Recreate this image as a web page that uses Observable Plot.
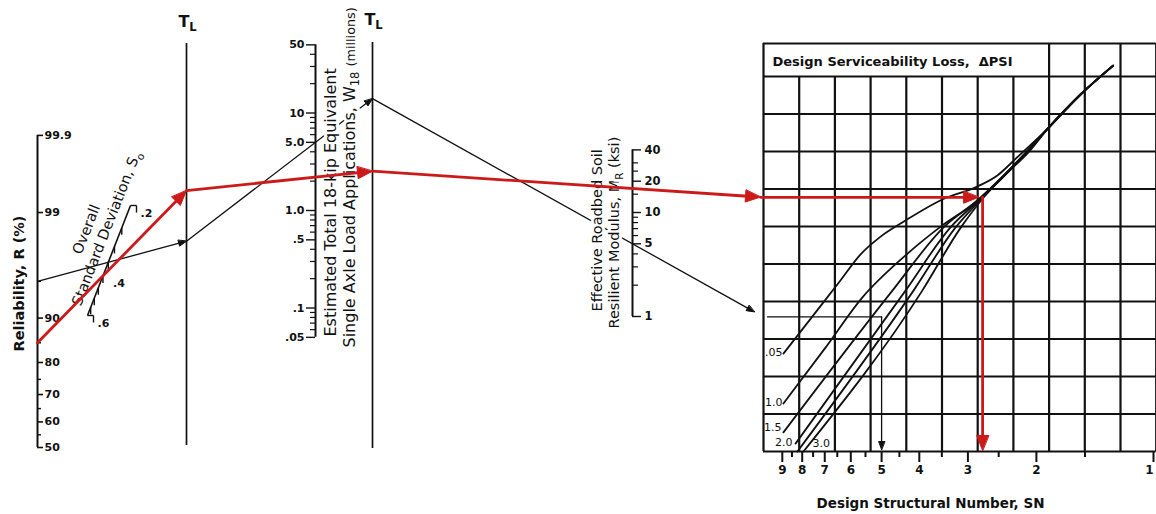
<!DOCTYPE html>
<html><head><meta charset="utf-8">
<script src="https://cdn.jsdelivr.net/npm/d3@7"></script>
<script src="https://cdn.jsdelivr.net/npm/@observablehq/plot@0.6"></script>
<style>
html,body{margin:0;padding:0;background:#fff;}
#chart svg{display:block;}
</style></head><body><div id="chart"></div>
<script>
// ---------------- DATA ----------------
const R_MAJOR = [50, 60, 70, 80, 90, 99, 99.9];
const R_MINOR = [55, 65, 75, 85, 95];
const S0_TICKS = [0.2, 0.25, 0.3, 0.35, 0.4, 0.45, 0.5, 0.55, 0.6];
const S0_LABELS = [0.2, 0.4, 0.6];
const W18_MAJOR = [0.05, 0.1, 0.5, 1, 5, 10, 50];
const W18_LABELS = [".05", ".1", ".5", "1.0", "5.0", "10", "50"];
const W18_MINOR = [0.06, 0.07, 0.08, 0.09, 0.2, 0.3, 0.4, 0.6, 0.7, 0.8, 0.9, 2, 3, 4, 6, 7, 8, 9, 20, 30, 40];
const MR_MAJOR = [1, 5, 10, 20, 40];
const MR_MINOR = [2, 3, 4, 6, 7, 8, 9, 15, 25, 30];
const SN_MAJOR = [1, 2, 3, 4, 5, 6, 7, 8, 9];
const SN_MINOR = [1.5, 2.5, 3.5, 4.5, 5.5, 6.5, 7.5, 8.5];

// Design serviceability loss curves: [SN, chart level]
const PSI_VALUES = [0.5, 1.0, 1.5, 2.0, 2.5, 3.0];
const PSI_LABELS = [".05", "1.0", "1.5", "2.0", "", "3.0"];
const PSI_05 = [[8.94,2.61],[7.39,3.71],[6.38,4.56],[5.67,5.25],[5.03,5.73],[4.34,6.16],[3.49,6.72],[2.83,7.07],[2.52,7.36],[2.26,7.81],[1.87,8.61],[1.54,9.52],[1.27,10.29]];
const PSI_10 = [[8.94,1.28],[6.97,2.77],[5.60,4.11],[4.34,5.23],[3.49,6.03],[2.83,6.69],[2.47,7.28],[2.13,7.97],[1.87,8.61],[1.54,9.52],[1.27,10.29]];
const PSI_15 = [[8.94,0.51],[4.69,4.29],[3.47,5.97],[2.82,6.72],[2.47,7.28],[2.13,7.97],[1.87,8.61],[1.54,9.52],[1.27,10.29]];
const PSI_20 = [[8.32,0.21],[4.34,4.29],[3.33,5.97],[2.78,6.75],[2.44,7.31],[2.12,7.97],[1.87,8.61],[1.54,9.52],[1.27,10.29]];
const PSI_25 = [[8.23,0],[4.14,4.29],[3.23,5.97],[2.75,6.77],[2.43,7.33],[2.11,7.97],[1.87,8.61],[1.54,9.52],[1.27,10.29]];
const PSI_30 = [[7.94,0],[3.93,4.29],[3.13,5.97],[2.72,6.80],[2.42,7.36],[2.10,7.97],[1.87,8.61],[1.54,9.52],[1.27,10.29]];

// Worked examples (black = guide example, red = design solution)
const EX_NAMES = ["example", "design"];
const EX_R = [95, 85];
const EX_S0 = [0.35, 0.40];
const EX_W18 = [5, 2.2];
const EX_MR = [5, 17];
const EX_SN = [5.0, 2.75];

// ---------------- LAYOUT (nomograph scales) ----------------
function probit(p){
  const a=[-3.969683028665376e+01,2.209460984245205e+02,-2.759285104469687e+02,1.383577518672690e+02,-3.066479806614716e+01,2.506628277459239e+00];
  const b=[-5.447609879822406e+01,1.615858368580409e+02,-1.556989798598866e+02,6.680131188771972e+01,-1.328068155288572e+01];
  const c=[-7.784894002430293e-03,-3.223964580411365e-01,-2.400758277161838e+00,-2.549732539343734e+00,4.374664141464968e+00,2.938163982698783e+00];
  const d=[7.784695709041462e-03,3.224671290700398e-01,2.445134137142996e+00,3.754408661907416e+00];
  const pl=0.02425, ph=1-pl; let q,r;
  if(p<pl){q=Math.sqrt(-2*Math.log(p));return (((((c[0]*q+c[1])*q+c[2])*q+c[3])*q+c[4])*q+c[5])/((((d[0]*q+d[1])*q+d[2])*q+d[3])*q+1);}
  if(p<=ph){q=p-0.5;r=q*q;return (((((a[0]*r+a[1])*r+a[2])*r+a[3])*r+a[4])*r+a[5])*q/(((((b[0]*r+b[1])*r+b[2])*r+b[3])*r+b[4])*r+1);}
  q=Math.sqrt(-2*Math.log(1-p));return -(((((c[0]*q+c[1])*q+c[2])*q+c[3])*q+c[4])*q+c[5])/((((d[0]*q+d[1])*q+d[2])*q+d[3])*q+1);
}
const RX = 37;
const yR = r => 447 - 101 * probit(r / 100);
const s0t = s => (s - 0.2) * 0.914 / (0.4 * (s + 0.314));
const pS0 = s => { const t = s0t(s); return [130 - 43 * t, 205 + 110 * t]; };
const TL1 = 186, TL2 = 372;
const WX = 315;
const yW = w => 210 - 97.5 * Math.log10(w);
const MX = 632;
const yM = m => 316 - 104 * Math.log10(m);
const GX0 = 763, COLW = 35.7, NCOL = 11, GBOT = 451, ROWH = 37.5, NROW = 10, GTOP = 43;
const GX1 = GX0 + NCOL * COLW;
const xSN = sn => 1153 - 389 * Math.log10(sn);
const yLev = l => GBOT - ROWH * l;

const RED = "#cc1a1a", INK = "#111";
const FONT = "'DejaVu Sans', Verdana, sans-serif";

// helpers
const lineAt = (p, q, x) => p[1] + (q[1] - p[1]) * (x - p[0]) / (q[0] - p[0]);
function seg(x1, y1, x2, y2) { return {x1, y1, x2, y2}; }
function head(s, len, hw, id) {
  const dx = s.x2 - s.x1, dy = s.y2 - s.y1, L = Math.hypot(dx, dy), ux = dx / L, uy = dy / L;
  const bx = s.x2 - ux * len, by = s.y2 - uy * len;
  return [{id, x: s.x2, y: s.y2}, {id, x: bx - uy * hw, y: by + ux * hw}, {id, x: bx + uy * hw, y: by - ux * hw}];
}
function shorten(s, k) {
  const dx = s.x2 - s.x1, dy = s.y2 - s.y1, L = Math.hypot(dx, dy);
  return {x1: s.x1, y1: s.y1, x2: s.x2 - dx / L * k, y2: s.y2 - dy / L * k};
}

// example paths
const exPaths = EX_NAMES.map((name, i) => {
  const pR = [RX, yR(EX_R[i])];
  const pS = pS0(EX_S0[i]);
  const pT1 = [TL1, lineAt(pR, pS, TL1)];
  const pW = [WX, yW(EX_W18[i])];
  const pT2 = [TL2, lineAt(pT1, pW, TL2)];
  const pM = [MX, yM(EX_MR[i])];
  const yG = lineAt(pT2, pM, GX0);
  const xs = xSN(EX_SN[i]);
  const red = name === "design";
  const xEnd = red ? 760 : 754;
  const segs = [
    {s: seg(pR[0], pR[1], pT1[0], pT1[1]), h: true},
    {s: seg(pT1[0], pT1[1], pT2[0], pT2[1]), h: true},
    {s: seg(pT2[0], pT2[1], xEnd, lineAt(pT2, pM, xEnd)), h: true},
    {s: seg(red ? 760 : 767, yG, red ? xs - 4 : xs, yG), h: red},
    {s: seg(xs, yG, xs, red ? 450 : 449), h: true}
  ];
  return {name, red, segs};
});

function exMarks(ex) {
  const len = ex.red ? 15 : 8, hw = ex.red ? 6 : 3;
  const color = ex.red ? RED : INK;
  const shafts = ex.segs.map(d => d.h ? shorten(d.s, len * 0.6) : d.s);
  const heads = ex.segs.flatMap((d, j) => d.h ? head(d.s, len, hw, ex.name + j) : []);
  return [
    Plot.link(shafts, {x1: "x1", y1: "y1", x2: "x2", y2: "y2", stroke: color, strokeWidth: ex.red ? 2.8 : 1.3, strokeLinecap: "round"}),
    Plot.line(heads, {x: "x", y: "y", z: "id", fill: color, stroke: color, strokeWidth: 1, curve: "linear-closed"})
  ];
}

const PSI_CURVES = [PSI_05, PSI_10, PSI_15, PSI_20, PSI_25, PSI_30];
const psiLabelData = PSI_VALUES.map((v, i) => ({v, t: PSI_LABELS[i], c: PSI_CURVES[i][0]})).filter(d => d.t);
const labelDx = {0.5: -1, 1: -1, 1.5: -2, 2: -3, 3: 9};
const labelDy = {0.5: -1, 1: -1, 1.5: -5, 2: -1, 3: -8};

// ---------------- MARKS ----------------
const cols = d3.range(NCOL + 1), rows = d3.range(NROW + 1);
const gridW = 2.2;
const marks = [
  // grid
  Plot.ruleX(cols.filter(i => i > 0 && i < NCOL), {x: i => GX0 + i * COLW, y1: () => yLev(NROW), y2: () => GBOT, stroke: INK, strokeWidth: gridW}),
  Plot.ruleX([0, NCOL, 8, 9, 10], {x: i => GX0 + i * COLW, y1: () => GTOP, y2: i => (i === 0 || i === NCOL) ? GBOT : yLev(NROW), stroke: INK, strokeWidth: gridW}),
  Plot.ruleY(rows, {y: i => yLev(i), x1: () => GX0, x2: () => GX1, stroke: INK, strokeWidth: gridW}),
  Plot.ruleY([GTOP], {y: d => d, x1: () => GX0, x2: () => GX1, stroke: INK, strokeWidth: gridW}),
  Plot.text(["Design Serviceability Loss,  \u0394PSI"], {x: () => 772, y: () => 61, text: d => d, textAnchor: "start", fontSize: 13, fontWeight: "bold", fill: INK}),

  // PSI curves
  ...PSI_CURVES.map(c =>
    Plot.line(c, {x: d => xSN(d[0]), y: d => yLev(d[1]), curve: "monotone-x", stroke: INK, strokeWidth: 1.8})),
  Plot.text(psiLabelData.filter(d => d.v !== 3.0),
    {x: d => xSN(d.c[0]) + labelDx[d.v], y: d => yLev(d.c[1]) + labelDy[d.v],
     text: "t", textAnchor: "end", fontSize: 11, fill: INK}),
  Plot.text(psiLabelData.filter(d => d.v === 3.0),
    {x: d => xSN(d.c[0]) + labelDx[d.v], y: d => yLev(d.c[1]) + labelDy[d.v],
     text: "t", textAnchor: "start", fontSize: 11, fill: INK}),

  // SN axis
  Plot.ruleX(SN_MAJOR, {x: d => xSN(d), y1: () => GBOT, y2: () => GBOT + 11, stroke: INK, strokeWidth: 2}),
  Plot.ruleX(SN_MINOR, {x: d => xSN(d), y1: () => GBOT, y2: () => GBOT + 6, stroke: INK, strokeWidth: 2}),
  Plot.text(SN_MAJOR, {x: d => Math.min(xSN(d), 1149), y: () => 470, text: d => String(d), fontSize: 12, fontWeight: "bold", fill: INK}),
  Plot.text(["Design Structural Number, SN"], {x: () => 930, y: () => 503, text: d => d, fontSize: 13.5, fontWeight: "bold", fill: INK}),

  // Reliability axis
  Plot.ruleX([RX], {x: d => d, y1: () => yR(99.9), y2: () => yR(50), stroke: INK, strokeWidth: 2}),
  Plot.ruleY(R_MAJOR, {y: d => yR(d), x1: () => RX, x2: () => RX + 6, stroke: INK, strokeWidth: 1.6}),
  Plot.ruleY(R_MINOR, {y: d => yR(d), x1: () => RX, x2: () => RX + 4, stroke: INK, strokeWidth: 1.4}),
  Plot.text(R_MAJOR, {x: () => RX + 7, y: d => yR(d), text: d => String(d), textAnchor: "start", fontSize: 11, fontWeight: "bold", fill: INK}),
  Plot.text(["Reliability, R (%)"], {x: () => 19, y: () => 283, text: d => d, rotate: -90, fontSize: 14.5, fontWeight: "bold", fill: INK}),

  // S0 axis
  Plot.link([0], {x1: () => pS0(0.2)[0], y1: () => pS0(0.2)[1], x2: () => pS0(0.6)[0], y2: () => pS0(0.6)[1], stroke: INK, strokeWidth: 1.6}),
  Plot.link(S0_TICKS, {x1: d => pS0(d)[0], y1: d => pS0(d)[1], x2: d => pS0(d)[0] + (d === 0.2 || d === 0.6 ? 6 : 0), y2: d => pS0(d)[1] + (d === 0.2 || d === 0.6 ? 0 : 7), stroke: INK, strokeWidth: 1.4}),
  Plot.link([0.2, 0.6], {x1: d => pS0(d)[0] + 6, y1: d => pS0(d)[1], x2: d => pS0(d)[0] + 6, y2: d => pS0(d)[1] + 7, stroke: INK, strokeWidth: 1.4}),
  Plot.text(S0_LABELS, {x: d => pS0(d)[0] + 10, y: d => pS0(d)[1] + 8, text: d => String(d).replace(/^0/, ""), textAnchor: "start", fontSize: 11, fontWeight: "bold", fill: INK}),
  Plot.text(["Overall"], {x: () => 86, y: () => 229, text: d => d, rotate: -68.6, fontSize: 14.5, fill: INK}),
  Plot.text(["Standard Deviation, S_{o}"], {x: () => 106, y: () => 228, text: d => d, rotate: -68.6, fontSize: 14.5, fill: INK}),

  // pivot lines
  Plot.ruleX([TL1], {x: d => d, y1: () => 43, y2: () => 445, stroke: INK, strokeWidth: 1.7}),
  Plot.ruleX([TL2], {x: d => d, y1: () => 42, y2: () => 448, stroke: INK, strokeWidth: 1.7}),
  Plot.text([TL1, TL2], {x: d => d + 1, y: d => d === TL1 ? 21 : 19, text: () => "T_{L}", fontSize: 16, fontWeight: "bold", fill: INK}),

  // W18 axis
  Plot.ruleX([WX], {x: d => d, y1: () => yW(50), y2: () => yW(0.05), stroke: INK, strokeWidth: 2}),
  Plot.ruleY(W18_MAJOR, {y: d => yW(d), x1: () => WX - 9, x2: () => WX, stroke: INK, strokeWidth: 1.4}),
  Plot.ruleY(W18_MINOR, {y: d => yW(d), x1: () => WX - 5, x2: () => WX, stroke: INK, strokeWidth: 1.2}),
  Plot.text(W18_MAJOR, {x: () => WX - 11, y: d => yW(d), text: (d, i) => W18_LABELS[i], textAnchor: "end", fontSize: 11, fontWeight: "bold", fill: INK}),

  // MR axis
  Plot.ruleX([MX], {x: d => d, y1: () => yM(40), y2: () => yM(1), stroke: INK, strokeWidth: 2}),
  Plot.ruleY(MR_MAJOR, {y: d => yM(d), x1: () => MX, x2: () => MX + 9, stroke: INK, strokeWidth: 1.4}),
  Plot.ruleY(MR_MINOR, {y: d => yM(d), x1: () => MX, x2: () => MX + 6, stroke: INK, strokeWidth: 1.2}),
  Plot.text(MR_MAJOR, {x: () => MX + 12, y: d => yM(d), text: d => String(d), textAnchor: "start", fontSize: 11.5, fontWeight: "bold", fill: INK}),

  // black example (drawn under labels)
  ...exMarks(exPaths[0]),

  // axis titles with white halo
  Plot.text(["Estimated Total 18-kip Equivalent"], {x: () => 330, y: () => 336, text: d => d, rotate: -90, textAnchor: "start", fontSize: 16, fill: INK, stroke: "white", strokeWidth: 6}),
  Plot.text(["Single Axle Load Applications, W_{18} %{(millions)}"], {x: () => 349, y: () => 347, text: d => d, rotate: -90, textAnchor: "start", fontSize: 16, fill: INK, stroke: "white", strokeWidth: 6}),
  Plot.text(["Effective Roadbed Soil"], {x: () => 597, y: () => 311, text: d => d, rotate: -90, textAnchor: "start", fontSize: 14.5, fill: INK, stroke: "white", strokeWidth: 6}),
  Plot.text(["Resilient Modulus, M_{R} (ksi)"], {x: () => 614, y: () => 328, text: d => d, rotate: -90, textAnchor: "start", fontSize: 14.5, fill: INK, stroke: "white", strokeWidth: 6}),

  // red design solution on top
  ...exMarks(exPaths[1])
];

const svg = Plot.plot({
  width: 1156, height: 514, margin: 0,
  x: {type: "linear", domain: [0, 1156], range: [0, 1156], axis: null},
  y: {type: "linear", domain: [0, 514], range: [0, 514], axis: null},
  style: {fontFamily: FONT, background: "#fff", color: INK},
  marks
});
document.getElementById("chart").appendChild(svg);

// subscripts "_{..}" (lowered, smaller) and small text "%{..}"
(function applySubs(root) {
  const NS = "http://www.w3.org/2000/svg";
  root.querySelectorAll("text, tspan").forEach(t => {
    [...t.childNodes].filter(n => n.nodeType === 3 && /[_%]\{/.test(n.nodeValue)).forEach(n => {
      const parent = n.parentNode;
      const fs = parseFloat(getComputedStyle(parent).fontSize) || 12;
      const sh = fs * 0.3;
      const frag = document.createDocumentFragment();
      let lowered = false;
      n.nodeValue.split(/([_%]\{[^}]*\})/).forEach(p => {
        if (!p) return;
        const m = p.match(/^([_%])\{([^}]*)\}$/);
        const ts = document.createElementNS(NS, "tspan");
        if (m && m[1] === "_") { ts.textContent = m[2]; ts.setAttribute("font-size", (fs * 0.72).toFixed(1)); ts.setAttribute("dy", sh.toFixed(1)); lowered = true; }
        else {
          ts.textContent = m ? m[2] : p;
          if (m) ts.setAttribute("font-size", (fs * 0.8).toFixed(1));
          if (lowered) { ts.setAttribute("dy", (-sh).toFixed(1)); lowered = false; }
        }
        frag.appendChild(ts);
      });
      parent.replaceChild(frag, n);
    });
  });
})(svg);
</script></body></html>
